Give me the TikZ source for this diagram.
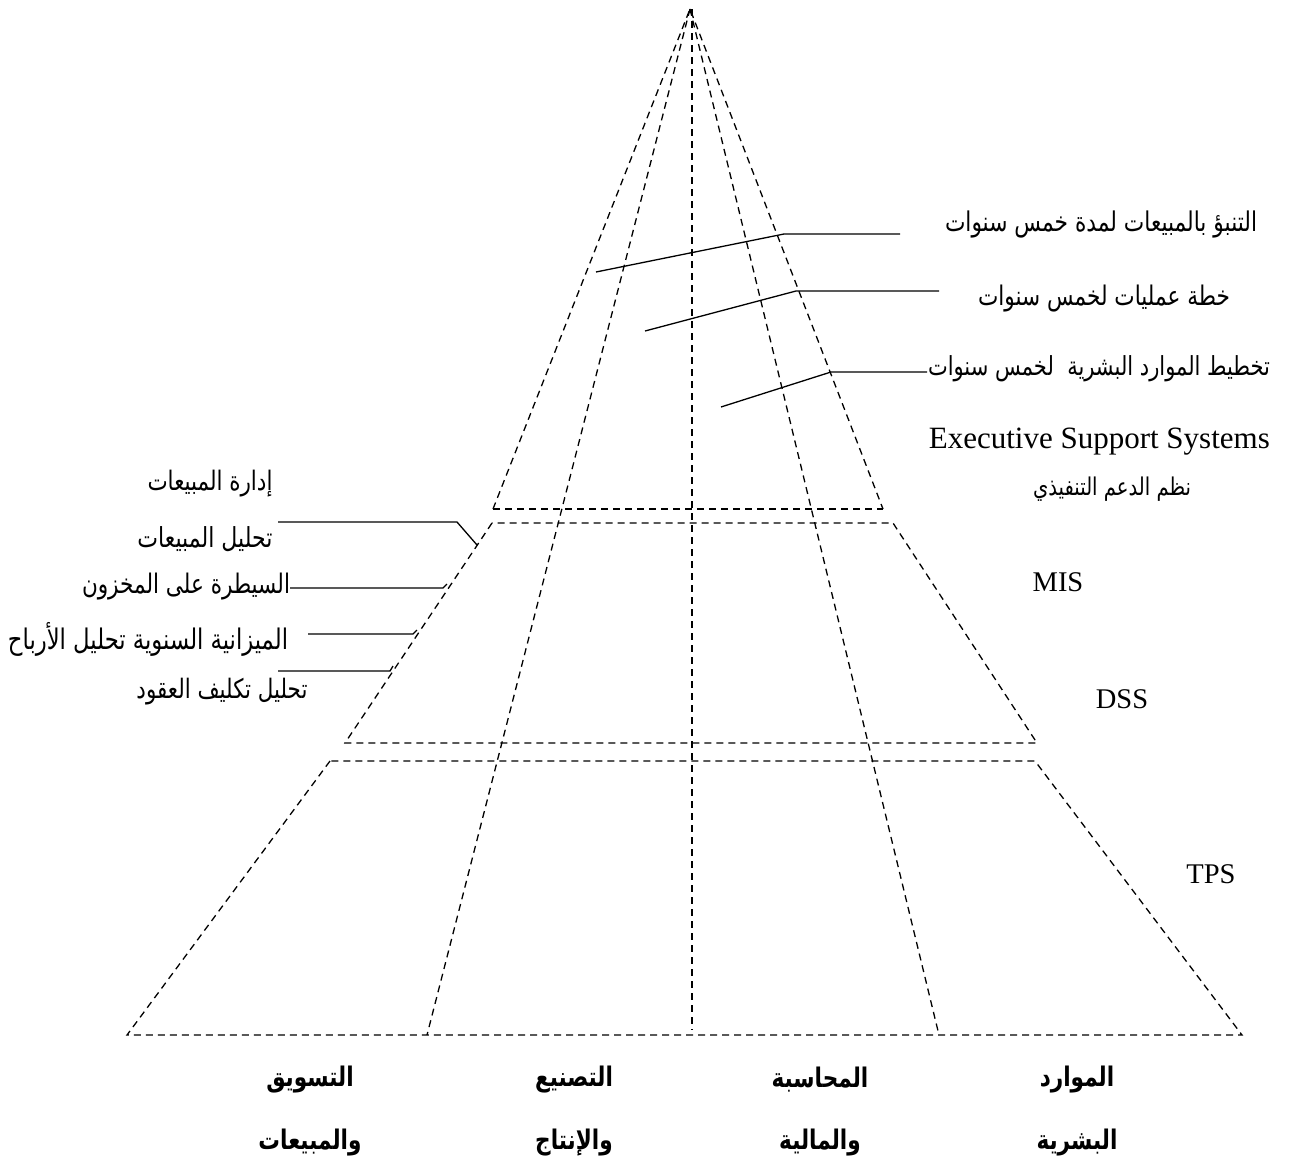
\documentclass[tikz,border=0pt]{standalone}
\usepackage{fontspec}
\usepackage{graphicx}
\setmainfont{Liberation Serif}
\newfontfamily\arabicfont[Script=Arabic,FakeStretch=0.8]{DejaVu Sans}
\TeXXeTstate=1
\newcommand{\artxt}[2]{\resizebox{#1pt}{!}{\arabicfont #2}}
\begin{document}
\begin{tikzpicture}[x=1pt,y=-1pt,
  dsh/.style={line width=1.3pt, dash pattern=on 7pt off 5pt},
  lead/.style={line width=1.3pt},
  lbl/.style={inner sep=0pt},
  eng/.style={inner sep=0pt, font=\fontsize{28.5}{32}\selectfont},
  bot/.style={inner sep=0pt, font=\fontsize{27}{30}\selectfont\arabicfont\bfseries}]
\useasboundingbox (0,0) rectangle (1293,1173);
% pyramid
\coordinate (apex) at (690,9);
\coordinate (e1) at (493,509); \coordinate (e2) at (883,509);
\coordinate (m1) at (492,523); \coordinate (m2) at (893,523);
\coordinate (d1) at (345,743); \coordinate (d2) at (1037,743);
\coordinate (t1) at (330,761); \coordinate (t2) at (1035,761);
\coordinate (b1) at (127,1035); \coordinate (b2) at (1242,1035);
\coordinate (il) at (427,1035); \coordinate (ir) at (939,1035);
\coordinate (ct) at (692,9); \coordinate (cb) at (692,1030);
\draw[dsh] (e1) -- (apex) -- (e2);
\draw[dsh] (e1) -- (e2);
\draw[dsh] (m1) -- (d1) -- (d2) -- (m2) -- cycle;
\draw[dsh] (t1) -- (b1) -- (b2) -- (t2) -- cycle;
\draw[dsh] (apex) -- (il);
\draw[dsh] (apex) -- (ir);
\draw[dsh] (ct) -- (cb);
% right leaders
\coordinate (r1a) at (596,272); \coordinate (r1b) at (784,234); \coordinate (r1c) at (900,234);
\coordinate (r2a) at (645,331); \coordinate (r2b) at (796,291); \coordinate (r2c) at (939,291);
\coordinate (r3a) at (721,407); \coordinate (r3b) at (831,372); \coordinate (r3c) at (927,372);
\draw[lead] (r1a) -- (r1b) -- (r1c);
\draw[lead] (r2a) -- (r2b) -- (r2c);
\draw[lead] (r3a) -- (r3b) -- (r3c);
% left leaders
\coordinate (l1a) at (278,522); \coordinate (l1b) at (457,522); \coordinate (l1c) at (477,545);
\coordinate (l2a) at (290,588); \coordinate (l2b) at (443,588); \coordinate (l2c) at (447,584);
\coordinate (l3a) at (308,634); \coordinate (l3b) at (413,634); \coordinate (l3c) at (417,630);
\coordinate (l4a) at (278,671); \coordinate (l4b) at (390,671); \coordinate (l4c) at (393,666);
\draw[lead] (l1a) -- (l1b) -- (l1c);
\draw[lead] (l2a) -- (l2b) -- (l2c);
\draw[lead] (l3a) -- (l3b) -- (l3c);
\draw[lead] (l4a) -- (l4b) -- (l4c);
% right texts
\node[lbl] (tr1) at (1101,224) {\artxt{312}{\beginR التنبؤ بالمبيعات لمدة خمس سنوات\endR}};
\node[lbl] (tr2) at (1104,299) {\artxt{252}{\beginR خطة عمليات لخمس سنوات\endR}};
\node[lbl] (tr3) at (1099,369) {\artxt{342}{\beginR تخطيط الموارد البشرية~~لخمس سنوات\endR}};
\node[eng, anchor=base east, font=\fontsize{31}{34}\selectfont] (ess) at (1270,448) {Executive Support Systems};
\node[lbl] (essar) at (1112,489) {\artxt{158}{\beginR نظم الدعم التنفيذي\endR}};
\node[eng, anchor=base] (mis) at (1058,591) {MIS};
\node[eng, anchor=base] (dss) at (1122,708) {DSS};
\node[eng, anchor=base] (tps) at (1211,883) {TPS};
% left texts
\node[lbl] (tl1) at (210,484) {\artxt{125}{\beginR إدارة المبيعات\endR}};
\node[lbl] (tl2) at (205,539) {\artxt{135}{\beginR تحليل المبيعات\endR}};
\node[lbl] (tl3) at (186,587) {\artxt{208}{\beginR السيطرة على المخزون\endR}};
\node[lbl] (tl4) at (148,639) {\artxt{280}{\beginR الميزانية السنوية تحليل الأرباح\endR}};
\node[lbl] (tl5) at (222,692) {\artxt{171}{\beginR تحليل تكليف العقود\endR}};
% bottom labels
\node[bot] (c1a) at (310,1080) {\beginR التسويق\endR};
\node[bot] (c1b) at (310,1143) {\beginR والمبيعات\endR};
\node[bot] (c2a) at (574,1080) {\beginR التصنيع\endR};
\node[bot] (c2b) at (574,1143) {\beginR والإنتاج\endR};
\node[bot] (c3a) at (820,1080) {\beginR المحاسبة\endR};
\node[bot] (c3b) at (820,1143) {\beginR والمالية\endR};
\node[bot] (c4a) at (1077,1080) {\beginR الموارد\endR};
\node[bot] (c4b) at (1077,1143) {\beginR البشرية\endR};
\end{tikzpicture}
\end{document}
